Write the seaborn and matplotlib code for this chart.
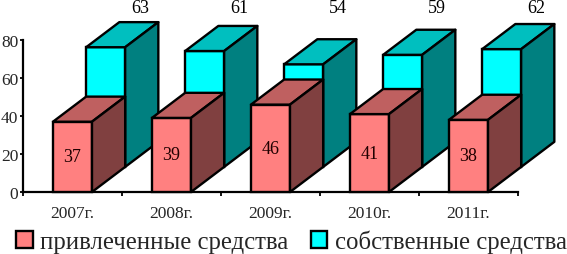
import pandas as pd
import matplotlib
matplotlib.use("Agg")
import matplotlib.pyplot as plt
from matplotlib.patches import Polygon, Patch
import seaborn as sns

# --- data ---
years = ["2007г.", "2008г.", "2009г.", "2010г.", "2011г."]
borrowed = [37, 39, 46, 41, 38]
own = [63, 61, 54, 59, 62]
y_ticks = [0, 20, 40, 60, 80]
label_borrowed = "привлеченные средства"
label_own = "собственные средства"

sns.set_style("white")
plt.rcParams["font.family"] = ["Liberation Serif", "DejaVu Serif"]

# 3D look: offset of one "depth" step, in data units
BAR_W = 0.394
DX = 0.335
DZ = 13.2
LW = 1.7

df = pd.DataFrame({"year": years, "borrowed": borrowed, "own": own})

fig = plt.figure(figsize=(5.67, 2.55), dpi=100)
ax = fig.add_axes([23 / 567, 62 / 255, 495 / 567, 152 / 255])


def draw_series(col, face, top, side, step, zo):
    n_before = len(ax.patches)
    sns.barplot(data=df, x="year", y=col, color=face, saturation=1, width=BAR_W,
                bottom=DZ * step, edgecolor="black", linewidth=LW, ax=ax, zorder=zo)
    for p in ax.patches[n_before:]:
        p.set_x(p.get_x() + DX * step)
        p.set_clip_on(False)
        x0, x1 = p.get_x(), p.get_x() + p.get_width()
        y0, y1 = p.get_y(), p.get_y() + p.get_height()
        ax.add_patch(Polygon([(x0, y1), (x1, y1), (x1 + DX, y1 + DZ), (x0 + DX, y1 + DZ)],
                             fc=top, ec="black", lw=LW, zorder=zo, clip_on=False,
                             joinstyle="round"))
        ax.add_patch(Polygon([(x1, y0), (x1 + DX, y0 + DZ), (x1 + DX, y1 + DZ), (x1, y1)],
                             fc=side, ec="black", lw=LW, zorder=zo, clip_on=False,
                             joinstyle="round"))


draw_series("own", "#00FFFF", "#00BFBF", "#008080", 1, 2)
draw_series("borrowed", "#FF8080", "#BF6060", "#804040", 0, 3)

for i, (b, o) in enumerate(zip(borrowed, own)):
    ax.text(i, b / 2, str(b), ha="center", va="center", fontsize=13, color="#200000", zorder=5)
    ax.text(i + 2 * DX + 0.01, 97.2, str(o), ha="center", va="center", fontsize=13, color="black",
            clip_on=False)

ax.set_xlim(-0.5, 4.5)
ax.set_ylim(0, 80)
ax.set_xlabel("")
ax.set_ylabel("")
ax.set_yticks(y_ticks)
ax.set_xticks(range(len(years)))
ax.set_xticklabels(years)
ax.set_xticks([i - 0.5 for i in range(len(years) + 1)], minor=True)
ax.tick_params(axis="x", which="major", length=0, pad=9.5, labelsize=12.5)
ax.tick_params(axis="x", which="minor", length=3, width=1.3, color="black", bottom=True)
ax.tick_params(axis="y", length=2.5, width=1.3, color="black", left=True, pad=1, labelsize=12.5)
ax.patch.set_alpha(0)
sns.despine(ax=ax)
for s in ["left", "bottom"]:
    ax.spines[s].set_color("black")
    ax.spines[s].set_linewidth(1.6)

handles = [Patch(fc="#FF8080", ec="black", lw=1.7, label=label_borrowed),
           Patch(fc="#00FFFF", ec="black", lw=1.7, label=label_own)]
fig.legend(handles=handles, loc="lower left", bbox_to_anchor=(11 / 567, -4 / 255), ncol=2, frameon=False,
           fontsize=17.8, handlelength=0.68, handleheight=0.68, handletextpad=0.3,
           columnspacing=0.9, borderpad=0.2, borderaxespad=0)

fig.savefig("out.png", dpi=100)
